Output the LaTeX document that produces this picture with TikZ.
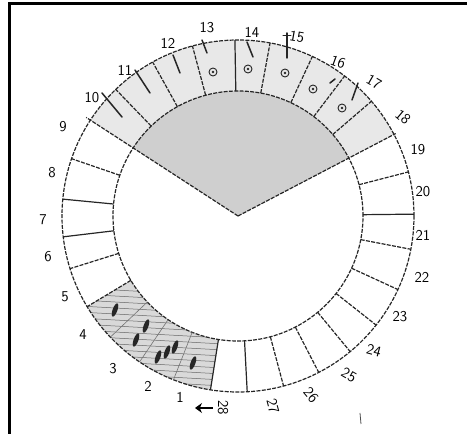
\documentclass[tikz,border=0pt]{standalone}
\usepackage{tikz}
\usetikzlibrary{arrows.meta}

\begin{document}
\begin{tikzpicture}[
  x=1pt, y=1pt,
  daylbl/.style={font=\sffamily\fontsize{15}{15}\selectfont, inner sep=0pt},
  pencil/.style={line width=1.2pt, black!85, dash pattern=on 4pt off 1.3pt},
  firm/.style={line width=1.2pt, black!85},
  stroke/.style={line width=1.5pt, black!85, line cap=round},
  hatch/.style={black!60, line width=0.5pt}
]
  \useasboundingbox (-238,-218) rectangle (229,216);
  \coordinate (c) at (0,0);

  % frame
  \draw[line width=3pt] (-228,-218) -- (-228,212) -- (229,212);

  % shaded days 10-18 and inner wedge
  \fill[gray!18] (27.6:176) arc[start angle=27.6, end angle=147, radius=176]
    -- (147:125) arc[start angle=147, end angle=27.6, radius=125] -- cycle;
  \fill[gray!38] (c) -- (27.6:125) arc[start angle=27.6, end angle=147, radius=125] -- cycle;

  % days 1-4
  \fill[gray!30] (-99:176) arc[start angle=-99, end angle=-149, radius=176]
    -- (-149:125) arc[start angle=-149, end angle=-99, radius=125] -- cycle;
  \begin{scope}
    \clip (-99:176) arc[start angle=-99, end angle=-149, radius=176]
      -- (-149:125) arc[start angle=-149, end angle=-99, radius=125] -- cycle;
    \foreach \y in {-220,-214,...,-70}
      \draw[hatch] (-195,\y) -- (-15,\y-10);
  \end{scope}

  % rings
  \draw[pencil] (c) circle[radius=176];
  \draw[pencil] (c) circle[radius=125];

  % spokes
  \foreach \a in {134,119,105,79.5,65,52.7,40.7,14.5,-10.9,-24.7,-38.3,-50.4,-62.7,-75,-149,-162.6,-199}
    \draw[pencil] (\a:125) -- (\a:176);
  \foreach \a in {91,0.6,-87,-99,-173.2,-185.5}
    \draw[firm] (\a:125) -- (\a:176);
  \foreach \a in {-111.5,-124,-136.5}
    \draw[black!55, line width=0.6pt] (\a:125) -- (\a:176);
  \draw[pencil] (c) -- (147:181);
  \draw[pencil] (c) -- (27.6:178);

  % day numbers
  \foreach \d/\x/\y/\r in {1/-58/-181/0, 2/-90/-170/0, 3/-125/-153/0, 4/-155/-119/0,
      5/-173/-81/0, 6/-190/-41/0, 7/-195/-4/0, 8/-186/43/0, 9/-175/89/0,
      10/-146/118/0, 11/-113/146/0, 12/-70/173/0, 13/-31/188/0, 14/14/184/0,
      15/59/179/-10, 16/100/154/-20, 17/136/134/-30, 18/165/99/-40, 19/180/66/0,
      20/185/24/0, 21/185/-19/0, 22/184/-61/0, 23/162/-101/0, 24/136/-135/-15,
      25/111/-159/-30, 26/73/-179/-50, 27/35/-190/-75, 28/-15/-192/-90}
    \node[daylbl, rotate=\r] (d\d) at (\x,\y) {\d};

  % strokes in days 10-17
  \foreach \xa/\ya/\xb/\yb in {-136/123/-116/99, -103/146/-88/123, -65/161/-58/143,
      -36/176/-31/163, 9/174/15/159, 49/183/49/158, 92/133/97/137, 120/133/114/116}
    \draw[stroke] (\xa,\ya) -- (\xb,\yb);
  \draw[stroke, line width=1pt] (45,180) -- (53,180);

  % circled dots, days 13-17
  \foreach \x/\y in {-25/144, 10/147, 47/143, 75/127, 104/108} {
    \draw[line width=0.9pt, black!85] (\x,\y) circle[radius=4];
    \fill[black!85] (\x,\y) circle[radius=1.4];
  }

  % marks in days 1-4
  \foreach \x/\y in {-123/-94, -92/-110, -102/-124, -80/-141, -71/-136, -63/-131, -45/-147}
    \fill[black!85, shift={(\x,\y)}, rotate=-20] (0,0) ellipse[x radius=2.4, y radius=7];

  % start arrow
  \coordinate (atail) at (-25,-192);
  \coordinate (ahead) at (-43,-192);
  \draw[line width=2pt, -{Stealth[length=7pt, width=10pt]}] (atail) -- (ahead);

  \draw[line width=0.8pt, black!70] (122,-197) -- (123,-208);
\end{tikzpicture}
\end{document}
